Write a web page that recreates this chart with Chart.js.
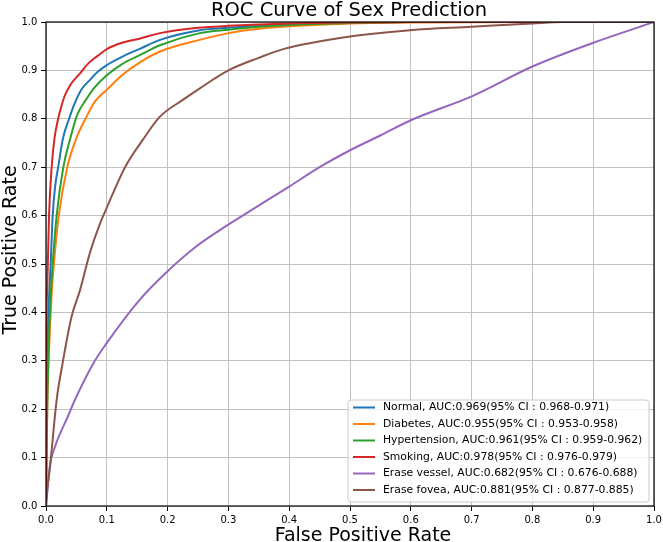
<!DOCTYPE html>
<html>
<head>
<meta charset="utf-8">
<script src="https://cdn.jsdelivr.net/npm/chart.js@4.4.0/dist/chart.umd.min.js"></script>
<style>
  html, body { margin: 0; padding: 0; background: #ffffff; }
  #wrap { width: 663px; height: 542px; position: relative; }
</style>
</head>
<body>
<div id="wrap"><canvas id="c" width="663" height="542"></canvas></div>
<script>
// ---- Data ----
const chartTitle = "ROC Curve of Sex Prediction";
const xAxisTitle = "False Positive Rate";
const yAxisTitle = "True Positive Rate";

const tickValues = [0, 0.1, 0.2, 0.3, 0.4, 0.5, 0.6, 0.7, 0.8, 0.9, 1.0];
const tickLabels = ["0.0", "0.1", "0.2", "0.3", "0.4", "0.5", "0.6", "0.7", "0.8", "0.9", "1.0"];

const seriesLabels = [
  "Normal, AUC:0.969(95% CI : 0.968-0.971)",
  "Diabetes, AUC:0.955(95% CI : 0.953-0.958)",
  "Hypertension, AUC:0.961(95% CI : 0.959-0.962)",
  "Smoking, AUC:0.978(95% CI : 0.976-0.979)",
  "Erase vessel, AUC:0.682(95% CI : 0.676-0.688)",
  "Erase fovea, AUC:0.881(95% CI : 0.877-0.885)"
];
const seriesColors = ["#1f77b4", "#ff7f0e", "#2ca02c", "#d62728", "#9467bd", "#8c564b"];

const normalFpr = [0, 0.001, 0.003, 0.005, 0.0077, 0.011, 0.015, 0.020, 0.028, 0.038, 0.045, 0.058, 0.072, 0.085, 0.1, 0.125, 0.155, 0.1875, 0.253, 0.3, 0.35, 0.4, 0.5, 0.6, 0.8, 1.0];
const normalTpr = [0, 0.2, 0.35, 0.43, 0.5, 0.6, 0.66, 0.7, 0.76, 0.8, 0.825, 0.86, 0.88, 0.897, 0.911, 0.928, 0.945, 0.963, 0.983, 0.988, 0.992, 0.995, 0.998, 1.0, 1.0, 1.0];

const diabetesFpr = [0, 0.002, 0.006, 0.009, 0.013, 0.021, 0.035, 0.05, 0.067, 0.08, 0.1, 0.125, 0.155, 0.1875, 0.253, 0.3, 0.35, 0.4, 0.5, 0.6, 0.8, 1.0];
const diabetesTpr = [0, 0.2, 0.35, 0.43, 0.5, 0.6, 0.7, 0.76, 0.805, 0.835, 0.86, 0.89, 0.917, 0.939, 0.963, 0.977, 0.986, 0.991, 0.997, 0.999, 1.0, 1.0];

const hypertensionFpr = [0, 0.002, 0.005, 0.008, 0.011, 0.0175, 0.0285, 0.04, 0.052, 0.065, 0.08, 0.1, 0.125, 0.155, 0.1875, 0.253, 0.3, 0.35, 0.4, 0.5, 0.6, 0.8, 1.0];
const hypertensionTpr = [0, 0.2, 0.35, 0.44, 0.5, 0.6, 0.7, 0.76, 0.81, 0.838, 0.865, 0.89, 0.913, 0.932, 0.952, 0.977, 0.984, 0.99, 0.994, 0.998, 1.0, 1.0, 1.0];

const smokingFpr = [0, 0.0003, 0.001, 0.002, 0.003, 0.005, 0.0093, 0.014, 0.020, 0.023, 0.03, 0.04, 0.056, 0.07, 0.085, 0.1, 0.125, 0.155, 0.1875, 0.25, 0.3, 0.4, 0.5, 0.6, 0.8, 1.0];
const smokingTpr = [0, 0.25, 0.4, 0.45, 0.5, 0.6, 0.7, 0.76, 0.80, 0.815, 0.845, 0.87, 0.894, 0.915, 0.93, 0.944, 0.957, 0.966, 0.977, 0.988, 0.992, 0.997, 0.999, 1.0, 1.0, 1.0];

const vesselFpr = [0, 0.0066, 0.0148, 0.037, 0.0475, 0.078, 0.0995, 0.154, 0.2, 0.247, 0.286, 0.33, 0.40, 0.45, 0.50, 0.549, 0.60, 0.703, 0.80, 0.90, 1.0];
const vesselTpr = [0, 0.085, 0.1225, 0.188, 0.219, 0.295, 0.336, 0.426, 0.485, 0.536, 0.570, 0.605, 0.66, 0.70, 0.735, 0.765, 0.797, 0.848, 0.908, 0.957, 1.0];

const foveaFpr = [0, 0.001, 0.0066, 0.0175, 0.028, 0.042, 0.056, 0.072, 0.089, 0.0995, 0.13, 0.16, 0.187, 0.225, 0.253, 0.30, 0.35, 0.39, 0.489, 0.599, 0.70, 0.80, 0.85, 1.0];
const foveaTpr = [0, 0.02, 0.081, 0.219, 0.30, 0.391, 0.446, 0.522, 0.584, 0.615, 0.70, 0.758, 0.804, 0.839, 0.863, 0.90, 0.926, 0.944, 0.968, 0.983, 0.99, 0.997, 1.0, 1.0];

const seriesFpr = [normalFpr, diabetesFpr, hypertensionFpr, smokingFpr, vesselFpr, foveaFpr];
const seriesTpr = [normalTpr, diabetesTpr, hypertensionTpr, smokingTpr, vesselTpr, foveaTpr];

// ---- Build datasets ----
const FONT = '"DejaVu Sans", "Liberation Sans", sans-serif';
const N = seriesLabels.length;
const datasets = seriesLabels.map((label, i) => ({
  label: label,
  data: seriesFpr[i].map((x, j) => ({ x: x, y: seriesTpr[i][j] })),
  borderColor: seriesColors[i],
  backgroundColor: seriesColors[i],
  borderWidth: 2,
  showLine: true,
  pointRadius: 0,
  pointHoverRadius: 0,
  cubicInterpolationMode: 'monotone',
  fill: false,
  order: N - 1 - i
}));

// Frame (spines)
const framePlugin = {
  id: 'frame',
  afterDatasetsDraw(chart) {
    const { ctx, chartArea: a } = chart;
    ctx.save();
    ctx.strokeStyle = '#000';
    ctx.lineWidth = 1.2;
    ctx.strokeRect(a.left, a.top, a.right - a.left, a.bottom - a.top);
    ctx.restore();
  }
};

// Legend inside the plot (lower right)
const legendPlugin = {
  id: 'innerLegend',
  afterDatasetsDraw(chart) {
    const ctx = chart.ctx;
    const a = chart.chartArea;
    const boxL = a.left + 302, boxR = a.right - 5, boxT = a.top + 378, boxB = a.bottom - 4;
    ctx.save();
    ctx.beginPath();
    if (ctx.roundRect) ctx.roundRect(boxL, boxT, boxR - boxL, boxB - boxT, 3);
    else ctx.rect(boxL, boxT, boxR - boxL, boxB - boxT);
    ctx.fillStyle = 'rgba(255,255,255,0.8)';
    ctx.fill();
    ctx.strokeStyle = '#cccccc';
    ctx.lineWidth = 1;
    ctx.stroke();
    ctx.font = '10.8px ' + FONT;
    ctx.textBaseline = 'middle';
    ctx.textAlign = 'left';
    chart.data.datasets.forEach((ds, i) => {
      const y = boxT + 7.5 + i * 16.5;
      ctx.strokeStyle = ds.borderColor;
      ctx.lineWidth = 2;
      ctx.beginPath();
      ctx.moveTo(boxL + 5, y);
      ctx.lineTo(boxL + 27, y);
      ctx.stroke();
      ctx.fillStyle = '#000';
      ctx.fillText(ds.label, boxL + 35, y);
    });
    ctx.restore();
  }
};

// Title and axis titles
const textPlugin = {
  id: 'texts',
  afterDraw(chart) {
    const ctx = chart.ctx;
    ctx.save();
    ctx.fillStyle = '#000';
    ctx.textAlign = 'center';
    ctx.textBaseline = 'alphabetic';
    ctx.font = '19.5px ' + FONT;
    ctx.fillText(chartTitle, 349, 15.5);
    ctx.font = '19px ' + FONT;
    ctx.fillText(xAxisTitle, 363, 541);
    ctx.save();
    ctx.translate(15.5, 250);
    ctx.rotate(-Math.PI / 2);
    ctx.fillText(yAxisTitle, 0, 0);
    ctx.restore();
    ctx.restore();
  }
};

function axisOptions(isX) {
  return {
    type: 'linear',
    min: 0,
    max: 1,
    afterBuildTicks(s) { s.ticks = tickValues.map(v => ({ value: v })); },
    afterFit(s) {
      if (isX) { s.height = 36; s.paddingLeft = 0; s.paddingRight = 0; }
      else { s.width = 46; s.paddingTop = 0; s.paddingBottom = 0; }
    },
    ticks: {
      callback(v) { const k = tickValues.findIndex(t => Math.abs(t - v) < 1e-9); return k >= 0 ? tickLabels[k] : ''; },
      font: { family: FONT, size: 10 },
      color: '#000',
      padding: isX ? 3 : 3.7,
      maxRotation: 0,
      autoSkip: false
    },
    grid: {
      color: '#c2c2c2',
      lineWidth: 1,
      drawTicks: true,
      tickLength: 5,
      tickColor: '#000',
      tickWidth: 1
    },
    border: { display: false }
  };
}

new Chart(document.getElementById('c'), {
  type: 'scatter',
  data: { datasets: datasets },
  options: {
    responsive: false,
    animation: false,
    devicePixelRatio: 1,
    layout: { padding: { top: 22, right: 9, left: 0, bottom: 0 } },
    plugins: {
      legend: { display: false },
      title: { display: false },
      tooltip: { enabled: false }
    },
    scales: {
      x: axisOptions(true),
      y: axisOptions(false)
    }
  },
  plugins: [framePlugin, legendPlugin, textPlugin]
});
</script>
</body>
</html>
